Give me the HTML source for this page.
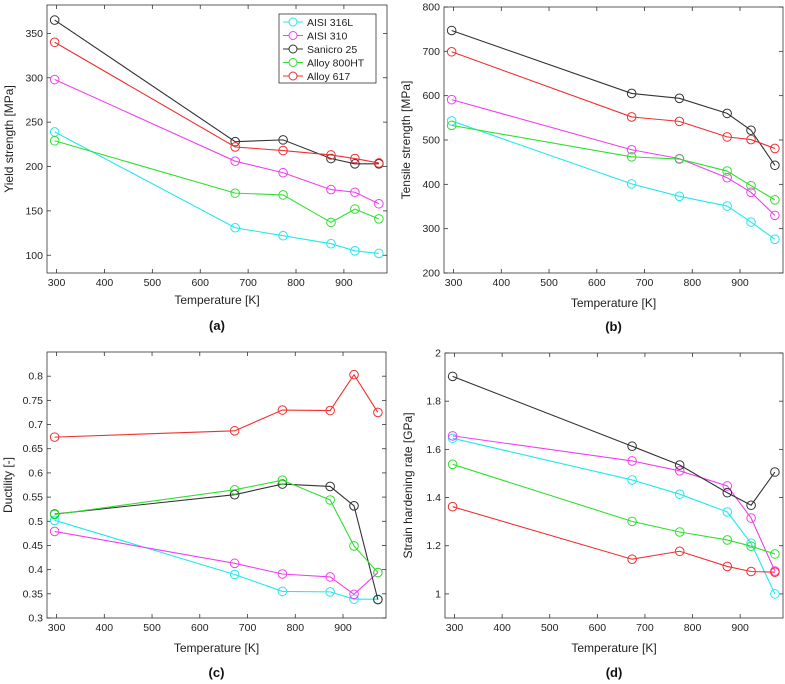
<!DOCTYPE html>
<html><head><meta charset="utf-8"><style>
body{margin:0;background:#fff;}
svg{display:block;font-family:"Liberation Sans",Arial,sans-serif;}
</style></head><body>
<svg id="fig" width="785" height="684" viewBox="0 0 785 684"></svg>
<script>
const temps=[296,673,773,873,923,973];
const seriesNames=["AISI 316L","AISI 310","Sanicro 25","Alloy 800HT","Alloy 617"];
const seriesColors=["#22e8f0","#f040f0","#333333","#30e030","#f03030"];
const yieldVals=[[239,131,122,113,105,102],[298,206,193,174,171,158],[365,228,230,209,203,203],[229,170,168,137,152,141],[340,222,218,213,209,204]];
const tensileVals=[[543,401,373,351,315,276],[591,478,458,415,382,330],[747,605,594,560,522,443],[533,462,457,430,397,365],[699,552,542,507,501,481]];
const ductVals=[[0.502,0.390,0.355,0.354,0.339,0.339],[0.479,0.413,0.391,0.385,0.349,0.394],[0.515,0.555,0.577,0.572,0.532,0.338],[0.514,0.565,0.585,0.544,0.449,0.394],[0.674,0.687,0.730,0.729,0.803,0.725]];
const hardVals=[[1.646,1.473,1.414,1.340,1.210,1.000],[1.656,1.552,1.511,1.448,1.315,1.095],[1.903,1.613,1.535,1.420,1.368,1.506],[1.538,1.301,1.257,1.224,1.198,1.166],[1.362,1.144,1.177,1.114,1.093,1.090]];
const xTicks=[300,400,500,600,700,800,900];
const yTicksA=[100,150,200,250,300,350];
const yTicksB=[200,300,400,500,600,700,800];
const yTicksC=[0.3,0.35,0.4,0.45,0.5,0.55,0.6,0.65,0.7,0.75,0.8];
const yTicksD=[1,1.2,1.4,1.6,1.8,2];

const NS="http://www.w3.org/2000/svg";
const svg=document.getElementById('fig');
function mk(tag,attrs,parent){const e=document.createElementNS(NS,tag);for(const k in attrs)e.setAttribute(k,attrs[k]);(parent||svg).appendChild(e);return e;}

function panel(cfg){
  const g=mk('g',{});
  
  
  const L=cfg.box[0],T=cfg.box[1],R=cfg.box[2],B=cfg.box[3];
  const xs=v=>L+(v-280)/(990-280)*(R-L);
  const ys=v=>B-(v-cfg.ylim[0])/(cfg.ylim[1]-cfg.ylim[0])*(B-T);
  const frame=mk('rect',{x:L,y:T,width:R-L,height:B-T,fill:'#fff',stroke:'#333','stroke-width':0.8},g);
  
  
  xTicks.forEach(t=>{const x=xs(t);
    mk('line',{x1:x,y1:B,x2:x,y2:B-4,stroke:'#333','stroke-width':0.8},g);
    mk('line',{x1:x,y1:T,x2:x,y2:T+4,stroke:'#333','stroke-width':0.8},g);
    const tx=mk('text',{x:x,y:B+13,'font-size':10.5,'text-anchor':'middle',fill:'#222'},g);tx.textContent=t;
    
    
  });
  cfg.yticks.forEach(t=>{const y=ys(t);
    mk('line',{x1:L,y1:y,x2:L+4,y2:y,stroke:'#333','stroke-width':0.8},g);
    mk('line',{x1:R,y1:y,x2:R-4,y2:y,stroke:'#333','stroke-width':0.8},g);
    const tx=mk('text',{x:L-4,y:y+3.5,'font-size':10.5,'text-anchor':'end',fill:'#222'},g);tx.textContent=t;
    
    
  });
  cfg.data.forEach((vals,i)=>{
    const pts=vals.map((v,j)=>xs(temps[j])+','+ys(v)).join(' ');
    const pl=mk('polyline',{points:pts,fill:'none',stroke:seriesColors[i],'stroke-width':1.1},g);
    
    
    vals.forEach((v,j)=>{
      const c=mk('circle',{cx:xs(temps[j]),cy:ys(v),r:4.3,fill:'none',stroke:seriesColors[i],'stroke-width':1},g);
      
      
    });
  });
  const xl=mk('text',{x:(L+R)/2,y:cfg.xlabY,'font-size':12,'text-anchor':'middle',fill:'#222'},g);xl.textContent='Temperature [K]';
  
  
  const yx=cfg.ylabX, yy=(T+B)/2;
  const yl=mk('text',{x:yx,y:yy,'font-size':12,'text-anchor':'middle',fill:'#222',transform:'rotate(-90 '+yx+' '+yy+')'},g);yl.textContent=cfg.ylabel;
  
  
  const lt=mk('text',{x:(L+R)/2,y:cfg.letY,'font-size':13,'font-weight':'bold','text-anchor':'middle',fill:'#111'},g);lt.textContent='('+cfg.id+')';
  
  
}

panel({id:'a',box:[47,5,387,273],ylim:[80,382],yticks:yTicksA,data:yieldVals,ylabel:'Yield strength [MPa]',xlabY:304,letY:330,ylabX:13});
panel({id:'b',box:[444,7,783,273],ylim:[200,800],yticks:yTicksB,data:tensileVals,ylabel:'Tensile strength [MPa]',xlabY:307,letY:331,ylabX:410});
panel({id:'c',box:[47,352,386,618],ylim:[0.3,0.85],yticks:yTicksC,data:ductVals,ylabel:'Ductility [-]',xlabY:652,letY:677,ylabX:12});
panel({id:'d',box:[445,353,783,618],ylim:[0.9,2],yticks:yTicksD,data:hardVals,ylabel:'Strain hardening rate [GPa]',xlabY:652,letY:677,ylabX:412});

// legend
const lg=mk('g',{});


mk('rect',{x:279,y:14,width:97,height:69,fill:'#fff',stroke:'#333','stroke-width':0.8},lg);
seriesNames.forEach((n,i)=>{
  const y=22+i*13.5;
  const e=mk('g',{},lg);
  
  
  mk('line',{x1:283,y1:y,x2:303,y2:y,stroke:seriesColors[i],'stroke-width':1.1},e);
  mk('circle',{cx:293,cy:y,r:4,fill:'#fff',stroke:seriesColors[i],'stroke-width':1},e);
  const t=mk('text',{x:307,y:y+3.8,'font-size':10.5,fill:'#222'},e);t.textContent=n;
});
</script>
</body></html>
